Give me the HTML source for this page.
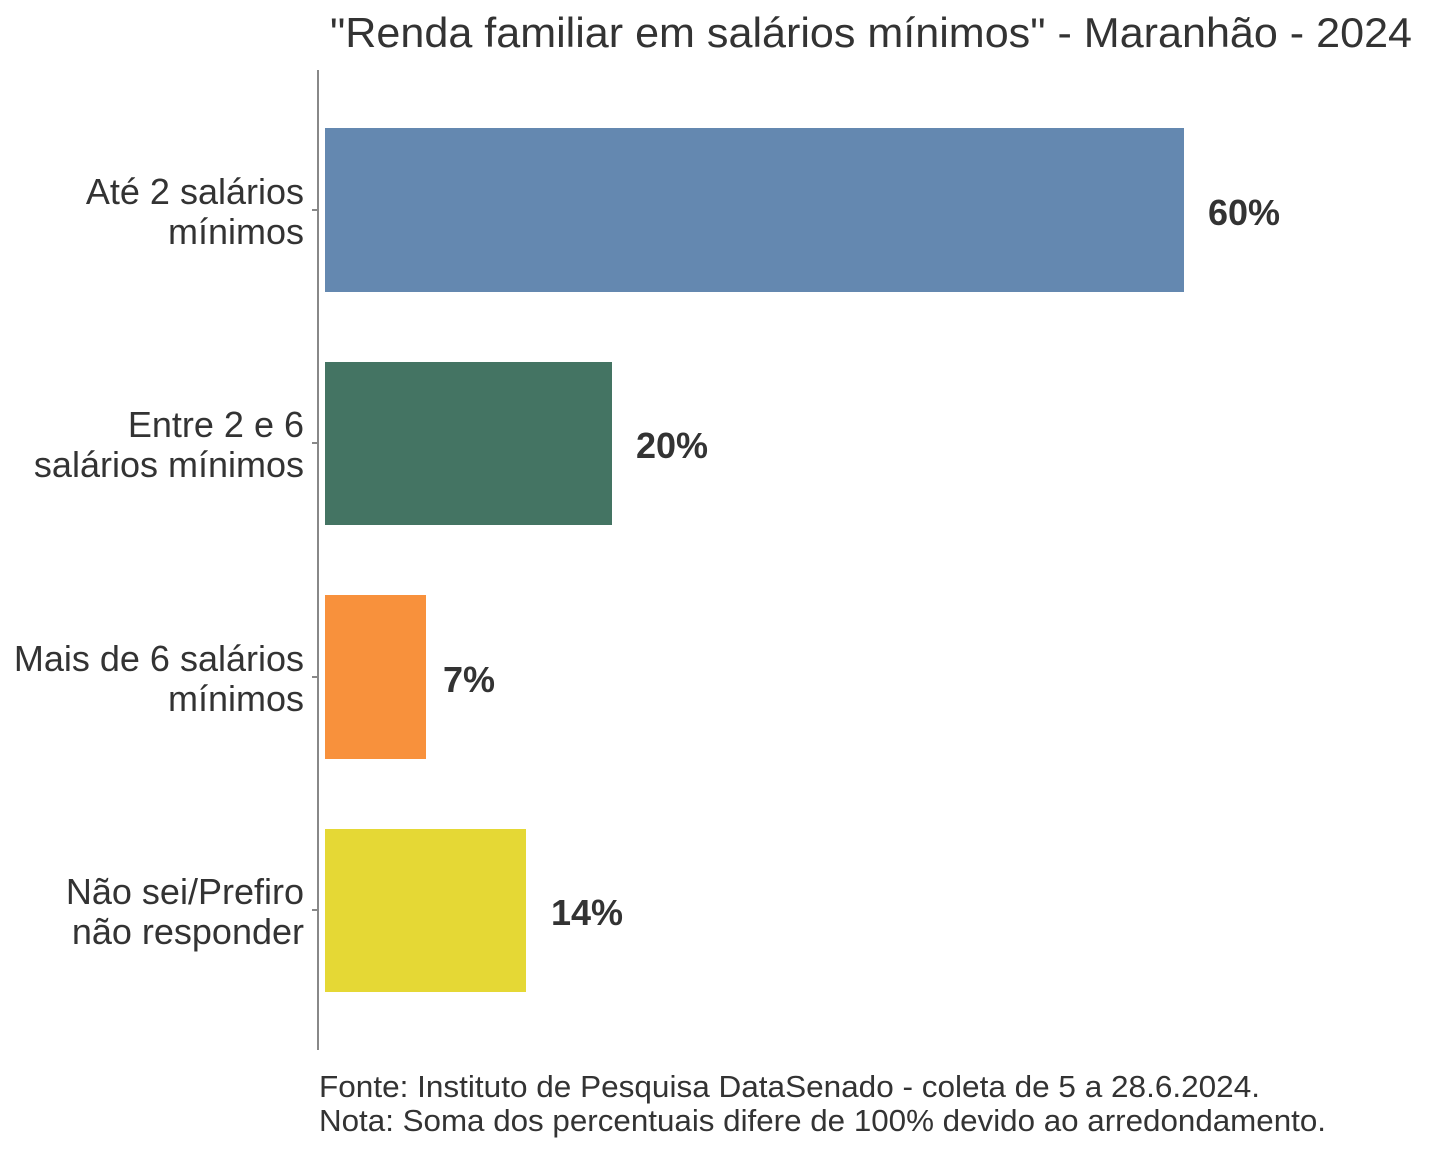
<!DOCTYPE html>
<html><head><meta charset="utf-8"><style>
body{margin:0;background:#fff;}
svg{display:block;font-family:"Liberation Sans",Arial,sans-serif;}
</style></head><body>
<svg width="1440" height="1152" viewBox="0 0 1440 1152" xmlns="http://www.w3.org/2000/svg">
<rect width="1440" height="1152" fill="#fff"/>
<text x="330" y="47" font-size="42" fill="#333" textLength="1082" lengthAdjust="spacingAndGlyphs">"Renda familiar em salários mínimos" - Maranhão - 2024</text>
<line x1="318" y1="70" x2="318" y2="1050" stroke="#888" stroke-width="2"/>
<g stroke="#888" stroke-width="2">
<line x1="312" y1="210" x2="318" y2="210"/>
<line x1="312" y1="443" x2="318" y2="443"/>
<line x1="312" y1="677" x2="318" y2="677"/>
<line x1="312" y1="910" x2="318" y2="910"/>
</g>
<rect x="325" y="128" width="859" height="164" fill="#6488b0"/>
<rect x="325" y="362" width="287" height="163" fill="#447463"/>
<rect x="325" y="595" width="101" height="164" fill="#f8913c"/>
<rect x="325" y="829" width="201" height="163" fill="#e5d835"/>
<g font-size="36" font-weight="bold" fill="#333">
<text x="1208" y="225">60%</text>
<text x="636" y="458">20%</text>
<text x="443" y="692">7%</text>
<text x="551" y="925">14%</text>
</g>
<g font-size="36" fill="#333" text-anchor="end">
<text x="304" y="204">Até 2 salários</text>
<text x="304" y="244">mínimos</text>
<text x="304" y="437">Entre 2 e 6</text>
<text x="304" y="477">salários mínimos</text>
<text x="304" y="671">Mais de 6 salários</text>
<text x="304" y="711">mínimos</text>
<text x="304" y="904">Não sei/Prefiro</text>
<text x="304" y="944">não responder</text>
</g>
<g font-size="31" fill="#333">
<text x="319" y="1097" textLength="941" lengthAdjust="spacingAndGlyphs">Fonte: Instituto de Pesquisa DataSenado - coleta de 5 a 28.6.2024.</text>
<text x="319" y="1131" textLength="1007" lengthAdjust="spacingAndGlyphs">Nota: Soma dos percentuais difere de 100% devido ao arredondamento.</text>
</g>
</svg>
</body></html>
